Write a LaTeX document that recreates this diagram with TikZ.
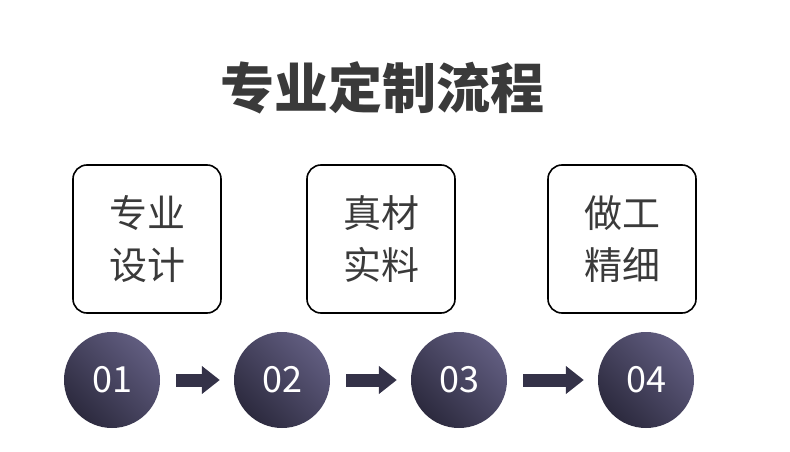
\documentclass[tikz,border=0pt]{standalone}
\usepackage{fontspec}
\newfontfamily\cjk{Noto Sans CJK SC}
\usetikzlibrary{arrows.meta}
\definecolor{ballhi}{HTML}{615D80}
\definecolor{balllo}{HTML}{2C2A3E}
\definecolor{titlegray}{HTML}{3A3A3A}
\begin{document}
\begin{tikzpicture}[x=1pt,y=-1pt,
    stepbox/.style={draw=black,line width=1.6pt,rounded corners=14pt,minimum width=148pt,minimum height=148pt,font=\cjk\fontsize{38}{52}\selectfont,text=titlegray,align=center},
    ball/.style={circle,minimum size=96pt,inner sep=0pt,left color=ballhi,right color=balllo,shading angle=-45,text=white,font=\cjk\fontsize{36}{40}\selectfont},
    flow/.style={line width=13pt,draw=balllo!85!ballhi,-{Triangle[width=27pt 0,length=18pt 0]},shorten <=16pt,shorten >=14pt}]
\useasboundingbox (0,0) rectangle (790,452);
\node[font=\cjk\bfseries\fontsize{54}{60}\selectfont,text=titlegray] (title) at (382,88) {专业定制流程};
% boxes
\node[stepbox] (box1) at (147,239) {专业\\设计};
\node[stepbox] (box2) at (381,239) {真材\\实料};
\node[stepbox] (box3) at (622,239) {做工\\精细};
% numbered balls
\node[ball] (num1) at (112,380) {01};
\node[ball] (num2) at (282,380) {02};
\node[ball] (num3) at (459,380) {03};
\node[ball] (num4) at (646,380) {04};
\draw[flow] (num1) -- (num2);
\draw[flow] (num2) -- (num3);
\draw[flow] (num3) -- (num4);
\end{tikzpicture}
\end{document}
